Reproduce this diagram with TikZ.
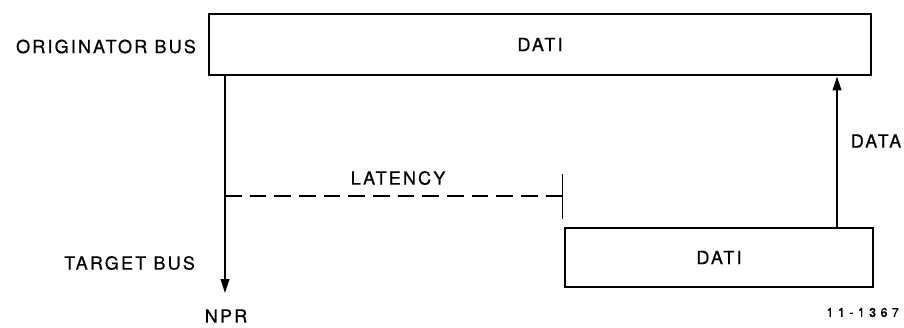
\documentclass[tikz,border=0pt]{standalone}
\usepackage{fontspec}
\setmainfont{TeX Gyre Heros}[LetterSpace=12,FakeBold=0.7]
\newfontfamily\figfont{TeX Gyre Heros}[LetterSpace=35,FakeBold=0.9]
\usetikzlibrary{arrows.meta}

\begin{document}
\begin{tikzpicture}[
		x=0.03cm, y=-0.03cm,
		font=\fontsize{15.4}{18}\selectfont,
		bus/.style={draw, line width=2.4pt, inner sep=0pt},
		sig/.style={line width=1.6pt, -{Triangle[length=0.42cm,width=0.26cm]}},
		wait/.style={line width=1.2pt, dash pattern=on 0.5cm off 0.24cm, -{Bar[width=1.35cm,line width=1.2pt]}}
		]
		\useasboundingbox (0,0) rectangle (904,327);
		\node[bus, minimum width=19.86cm, minimum height=1.83cm] (orig) at (540,44.5) {DATI};
		\node[bus, minimum width=9.24cm, minimum height=1.77cm] (targ) at (719,257.5) {DATI};
		\node[anchor=east] (origlabel) at (200,46.5) {ORIGINATOR BUS};
		\node[anchor=east] (targlabel) at (199,263) {TARGET BUS};
		\node (npr) at (226,316) {NPR};
		\node (latency) at (398,178) {LATENCY};
		\node (data) at (876,141) {DATA};
		\node[anchor=east, font=\fontsize{10.7}{13}\selectfont\figfont] (fig) at (903,312.5) {11-1367};
		\coordinate (nprx) at (225,0);
		\coordinate (nprend) at (225,293);
		\coordinate (latstart) at (225,196);
		\coordinate (latend) at (563,196);
		\coordinate (datax) at (837,0);
		\draw[sig] (orig.south -| nprx) -- (nprend);
		\draw[wait] (latstart) -- (latend);
		\draw[sig] (targ.north -| datax) -- (orig.south -| datax);
\end{tikzpicture}
\end{document}
